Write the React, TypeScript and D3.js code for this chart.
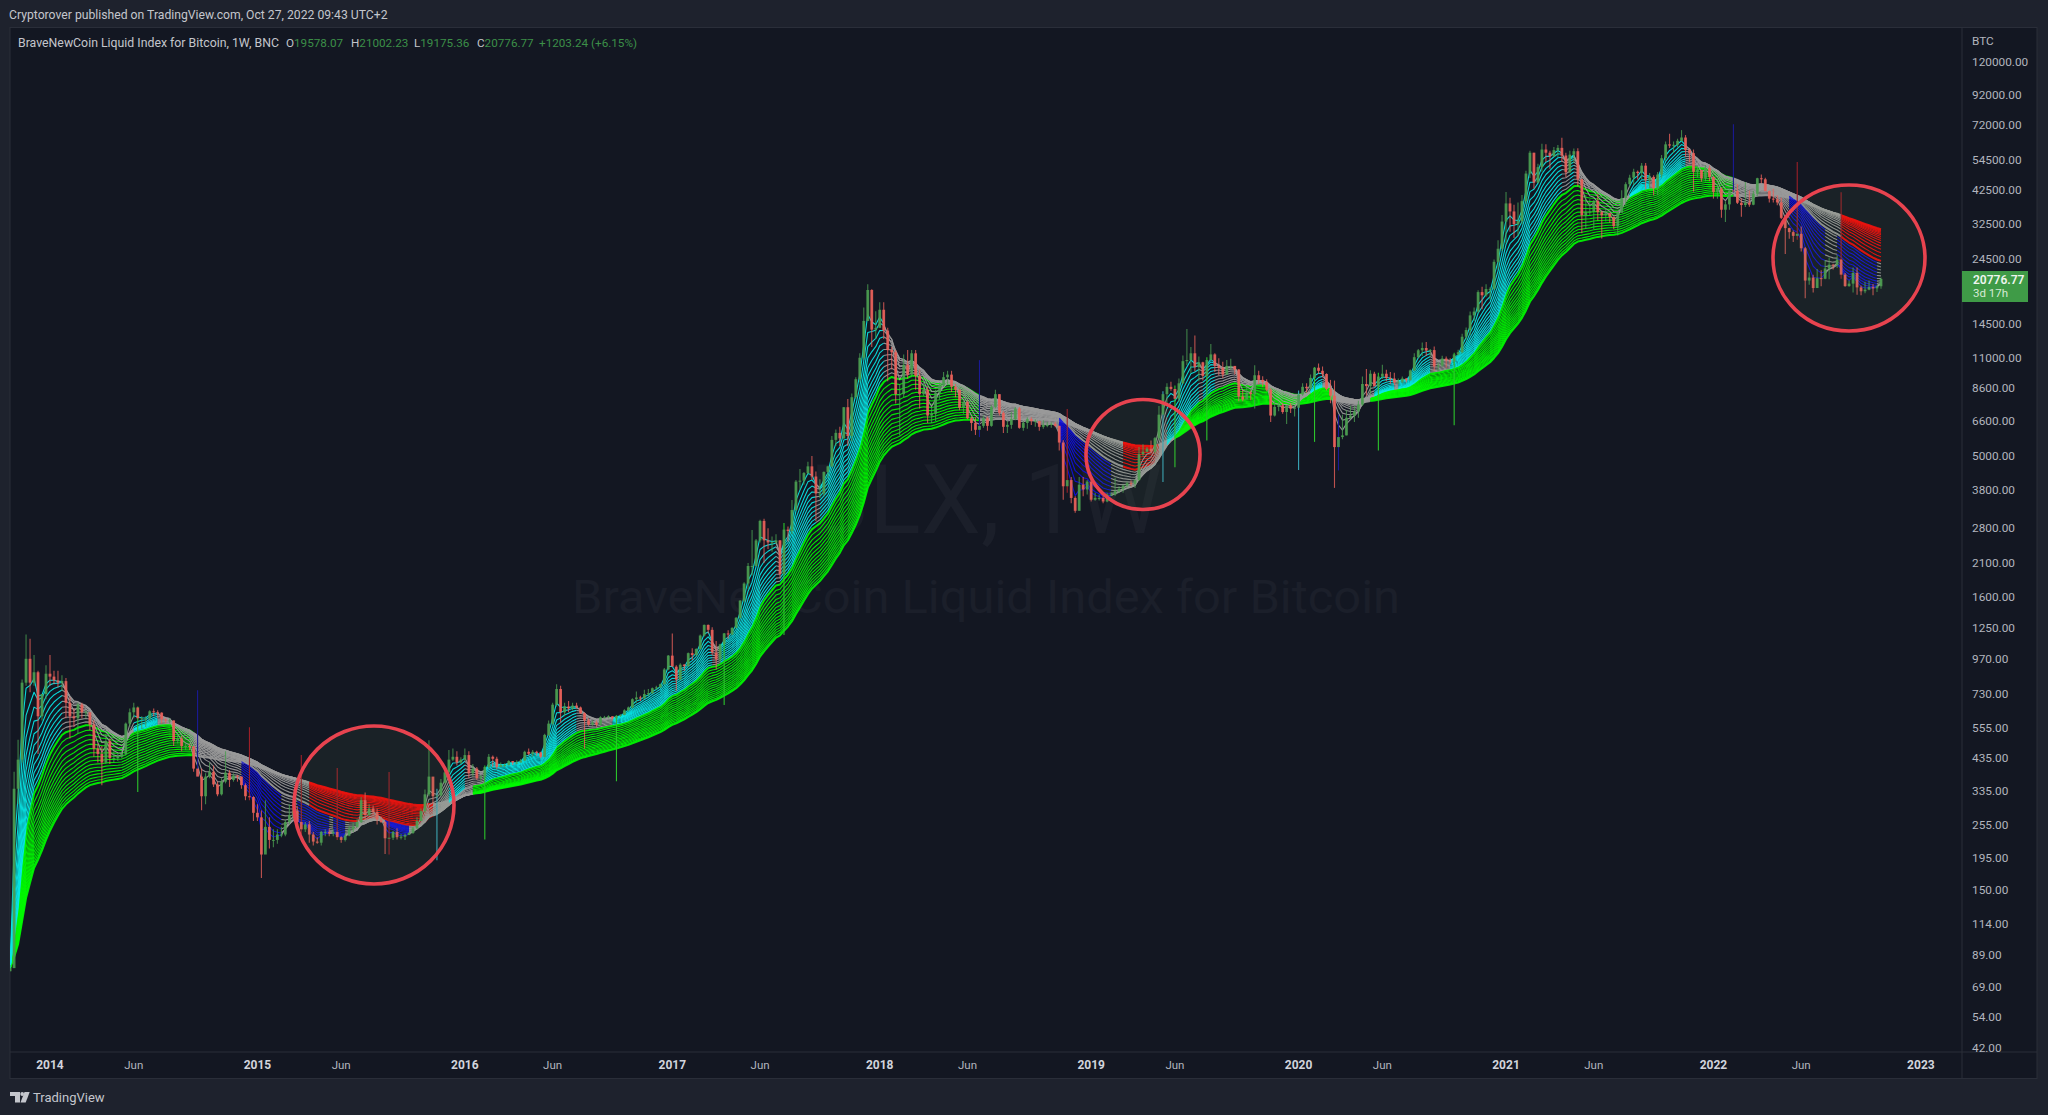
import React from 'react';
import * as d3 from 'd3';

// Weekly bars, first Monday 2013-10-28, rows split by calendar month (first row: 2013).
const firstWeek = '2013-10-28';
const closes = [
  80,340,430,800,970,800,870,610,730,860,
  840,815,800,810, 680,610,600,670, 630,630,570,470,450, 420,500,435,435, 440,450,575,630, 655,600,600,600,635, 630,628,595,590, 590,500,510,480, 480,478,400,375,320, 375,390,352,325, 360,387,365,378, 375,350,320,318,280,
  270,200,250,225, 225,235,235,260, 275,285,260,245,255, 235,222,220,240, 240,237,240,230, 225,233,245,250,260, 310,275,290,282, 265,260,228,229,240, 230,231,234,238, 247,262,284,325, 375,320,322,357,388, 430,440,420,430,
  446,385,400,370, 375,405,440,433,405, 412,412,425,420, 420,427,458,451, 458,456,440,525,575, 670,760,630,660, 650,665,655,625, 590,570,580,570,605, 605,610,600,612, 617,640,655,700,710, 705,730,735,765, 770,790,890,995,
  910,820,925,915,1015, 1000,1050,1170,1275, 1225,1020,965,1090, 1190,1180,1245,1350, 1550,1780,2050,2050,2520, 2950,2520,2480,2480, 2520,1920,2750,2720,3220, 4050,4080,4340,4580, 4220,3680,3680,4380, 4580,5670,6000,5740,7380, 5850,8000,9250,11000, 14800,19000,13800,14000,
  16200,13700,11700,11500,8200, 8200,10400,9600,11400, 9500,8200,8500,6900, 7000,8300,8800,9400,9600, 8700,8500,7350,7700, 6750,6500,6150,6350, 6750,6350,7400,8200,7050, 6300,6400,6700,7300, 6250,6500,6700,6600, 6600,6300,6400,6400,6450, 6350,5550,3900,4100, 3550,3200,3950,3800,4050,
  3500,3550,3550,3450, 3650,3650,3750,3820, 3920,4000,3980,4100, 5050,5150,5280,5160,5750, 6950,8200,8700,8550, 7900,8950,10700,10800, 11400,10200,10600,9500,10800, 11300,10300,10150,9600, 10300,10300,10000,8050,7850, 8300,8200,9550,9200, 9050,8500,6900,7400, 7500,7100,7500,7300,7350,
  8180,8700,8600,9350, 10150,9900,9650,8550, 8100,5350,5800,5880,6780, 6900,7130,7540,8900, 8750,9670,8720,9450, 9670,9340,9300,9000,9070, 9300,9170,9930,11050, 11680,11900,11650,11700,10250, 10330,10930,10770,10670, 11300,11500,13030,13760, 15480,15960,18680,18200,19150, 19170,23850,26500,33000,
  38200,35800,32300,33100, 38900,48600,57500,45200, 51200,59000,57500,55800,58700, 59800,56200,49100,56600, 58200,46400,34700,35700,35800, 39000,35600,34700,35300, 34300,31800,35400,39900, 44600,47000,49300,48800,51800, 46000,47300,43200,48200, 55000,61500,60900,61300, 63300,65000,58700,57300,49300, 50100,46700,50800,47300,
  41900,43100,36300,37900,42400, 42200,38400,37700,38400, 37800,41300,46800,46400, 42200,39700,39500,38500, 34000,31300,30300,29400,29900, 26600,20500,21000,19300, 20900,20800,22600,23300, 23200,24300,21500,19600,20000, 21800,19400,18800,19050, 19440,19250,19578.07,20776.77,
];
const highs = [
  82,390,505,820,1180,1140,1000,880,730,920,
  1000,880,880,850, 830,710,650,680, 680,640,630,590,490, 480,530,510,460, 450,460,580,650, 680,660,610,610,640, 650,640,630,600, 600,590,530,520, 490,490,480,753,400, 385,420,410,360, 370,460,395,385, 380,375,355,558,320,
  300,285,310,270, 245,245,250,265, 300,300,295,446,260, 262,240,230,242, 245,246,245,402, 232,236,252,258,267, 318,330,300,297, 290,270,262,389,242, 247,236,237,240, 250,270,290,338, 503,340,340,368,400, 465,470,460,438,
  470,460,415,405, 380,410,450,445,440, 420,418,428,425, 428,432,462,470, 465,462,458,530,590, 680,790,780,680, 690,680,680,660, 630,600,590,590,610, 612,615,610,615, 620,645,660,705,745, 720,755,760,770, 780,795,900,1000,
  1190,920,935,930,1020, 1055,1055,1180,1280, 1280,1250,1120,1095, 1195,1220,1250,1360, 1560,1800,2100,2740,2550, 2980,3000,2780,2600, 2650,2530,2900,2820,3490, 4100,4480,4380,4750, 4980,4390,4130,4390, 4600,5850,6170,6300,7400, 7880,8250,9400,11400, 16500,19900,19100,16000,
  17200,17200,14000,12000,11700, 8900,11300,11700,11700, 11700,10000,9200,8700, 7400,8500,9000,9800,9900, 9900,8900,8500,7750, 7800,6850,6800,10790, 6900,6850,7500,8500,8200, 7150,6600,7100,7400, 7400,6600,6800,6800, 6700,6600,6650,6550,6550, 6550,6350,5650,7280, 4200,3600,4200,4200,4100,
  4100,3700,3650,3600, 3700,3720,4180,3900, 3950,4050,4090,4120, 5350,5470,5350,5640,5800, 7450,8400,8950,9070, 8800,9300,11200,13880, 12000,13150,11100,10650,11050, 12300,11400,10950,10650, 10800,10900,10300,10050,8500, 8700,8450,10350,9900, 9470,9250,8600,7820, 7720,7650,7520,7640,7500,
  8450,8950,8950,9600, 10200,10500,10250,9700, 9200,9150,6950,6950,7200, 7470,7460,7770,9450, 10050,9950,9830,9740, 10400,9990,9800,9750,9300, 9450,9350,10000,11400, 11800,12450,12480,11800,12050, 10580,11180,11100,10950, 11450,11730,13350,14050, 15960,16480,18950,19500,19900, 19420,24300,28400,34800,
  41900,40000,37800,38500, 40900,49700,58400,57500, 52600,61800,61500,58400,60200, 61200,64900,57500,58400, 59500,59600,46600,40900,39500, 39300,41300,36000,36700, 35300,33900,35400,42500, 45300,48100,50500,49800,52900, 52900,48800,47900,49200, 56500,62900,67000,63000, 64300,69000,66300,59400,59000, 51900,49500,52000,51900,
  47500,44400,43500,38900,42800, 72400,44700,39800,45400, 42400,42300,47000,48200, 47000,42400,43000,40800, 40000,34300,31400,30700,53400, 31700,26900,21900,21500, 22500,22300,24200,24700, 23500,25200,41770,21800,20500, 22800,22800,19700,20300, 20500,19950,19700,21002.23,
];
const lows = [
  78,200,300,420,780,740,780,450,590,700,
  780,790,770,750, 600,510,560,530, 600,600,545,440,420, 350,415,415,420, 425,435,445,560, 600,331,550,560,590, 610,600,575,575, 575,480,490,460, 465,465,390,375,286, 300,370,345,320, 322,355,345,360, 360,340,310,310,262,
  262,165.5,205,210, 212,218,230,232, 255,265,258,235,240, 220,215,218,215, 232,232,232,225, 220,222,232,240,248, 258,265,273,275, 255,258,201,200,225, 226,226,225,235, 236,245,262,280, 320,300,191,320,355, 385,425,410,415,
  425,370,375,365, 360,226,400,405,398, 405,405,410,412, 415,420,425,445, 440,445,435,438,520, 570,660,580,610, 630,640,650,622, 470,565,565,560,568, 600,600,590,361, 607,615,635,650,680, 690,700,715,730, 755,768,790,885,
  960,750,815,880,910, 960,990,1050,1160, 1190,1000,890,935, 668,1140,1175,1240, 1340,1530,1700,1900,2080, 2480,2100,2350,2300, 2450,1850,1175,2500,2650, 3200,3800,3950,4300, 4100,2950,3550,3600, 4180,4560,5400,5400,5700, 5400,5600,7900,9000, 10800,14800,12000,12800,
  14000,12800,9100,10000,7600, 5880,8000,9300,9400, 8500,7300,8100,6500, 6500,6600,7850,8700,8900, 8350,8000,7200,7000, 6700,6100,5900,5800, 6250,6100,6300,7300,6900, 6000,6000,6200,6650, 6200,6100,6200,6400, 6300,6100,6200,6280,6250, 6280,5200,3500,3700, 3400,3150,3200,3600,3650,
  3450,3470,3480,3400, 3430,3610,3610,3700, 3700,3860,3900,3850, 4080,4950,5130,5130,5070, 5680,4040,7500,8430, 4550,7700,8900,10350, 9700,9850,9100,9150,5640, 10900,9800,9550,9350, 9600,10000,9600,7750,7750, 8050,7800,7300,8900, 8700,8400,6550,6850, 7150,7000,6450,7050,6850,
  4450,8100,8300,8550, 5580,9650,9400,8450, 7620,3850,4430,5700,5880, 6700,6550,6780,7450, 8100,8200,8800,5210, 9270,9100,8900,8830,8900, 8950,9000,9130,9900, 10950,11150,11150,11120,9900, 9850,10200,10150,10450, 6380,11200,11400,12750, 13200,14800,15800,16250,18000, 17600,19000,22400,26000,
  27700,30400,28900,29300, 32300,38000,46900,43000, 44900,49300,53300,50500,55500, 55500,53300,47200,48800, 52900,43800,30000,31100,34800, 31100,33300,28800,33000, 32700,31000,29500,36400, 37500,43700,44300,46300,46500, 42800,43400,40700,40800, 47000,53900,59700,57400, 60000,62800,55500,53300,42000, 47100,45500,45600,45700,
  39700,39700,34000,32900,36300, 41700,38000,34300,37100, 37200,37600,40500,44900, 42100,38500,38500,37600, 33700,25400,28700,28000,28500, 25900,17770,19800,18600, 19300,19600,20700,20700, 22400,22700,20800,19500,19500, 18600,18300,18200,18500, 18950,18200,18700,19175.36,
];
// Long shadows that carry a colour of their own: bar index, and colour role.
const limeShadowBars = [32, 119, 152, 179, 194, 292, 300, 327, 343, 362];
const cyanShadowBars = [107, 289, 323];
const blueShadowBars = [47, 243, 333, 432];
const darkRedShadowBars = [60, 73, 82, 95, 265, 448, 459];

const fastPeriods = [3, 5, 7, 9, 11, 13, 15, 17, 19, 21, 23];
const slowPeriods = [25, 28, 31, 34, 37, 40, 43, 46, 49, 52, 55, 58, 61, 64, 67, 70];

const priceTicks = [120000, 92000, 72000, 54500, 42500, 32500, 24500, 14500, 11000, 8600, 6600, 5000, 3800, 2800, 2100, 1600, 1250, 970, 730, 555, 435, 335, 255, 195, 150, 114, 89, 69, 54, 42];
const timeTickDates = ['2014-01-06','2014-06-02','2015-01-05','2015-06-01','2016-01-04','2016-06-06','2017-01-02','2017-06-05','2018-01-01','2018-06-04','2019-01-07','2019-06-03','2020-01-06','2020-06-01','2021-01-04','2021-06-07','2022-01-03','2022-06-06','2023-01-02'];
const timeTickLabels = ['2014','Jun','2015','Jun','2016','Jun','2017','Jun','2018','Jun','2019','Jun','2020','Jun','2021','Jun','2022','Jun','2023'];

const W = 2048, H = 1115;
const UI = 'Roboto, "Open Sans", sans-serif';
const bg = '#1e222d', pane = '#131722', rule = '#2a2e39', axisText = '#b2b5be';
const up = '#4a9c50', down = '#e8605a';
const roleColor: Record<string, string> = { aqua: '#08e8e8', blue: '#1010e0', gray: '#9a9a9a', lime: '#00fa00', red: '#f40808' };

function ema(values: number[], period: number) {
  const k = 2 / (period + 1);
  const out: number[] = [];
  values.forEach((v, i) => out.push(i === 0 ? v : out[i - 1] + k * (v - out[i - 1])));
  return out;
}
const descending = (sets: number[][], i: number) => sets.every((s, j) => j === 0 || sets[j - 1][i] > s[i]);
const ascending = (sets: number[][], i: number) => sets.every((s, j) => j === 0 || sets[j - 1][i] < s[i]);

export default function App() {
  const n = closes.length;
  const start = new Date(firstWeek + 'T00:00:00Z');
  const dates = d3.utcMonday.range(start, d3.utcDay.offset(start, n * 7));
  const x = d3.scaleUtc().domain([dates[0], dates[n - 1]]).range([10.1, 1881]);
  const y = d3.scaleLog().domain([120000, 42]).range([61.5, 1048]);

  const fast = fastPeriods.map(p => ema(closes, p));
  const slow = slowPeriods.map(p => ema(closes, p));
  const lastFast = fast[fast.length - 1];
  const lastSlow = slow[slow.length - 1];
  const fastRole = d3.range(n).map(i =>
    descending(fast, i) && lastFast[i] > lastSlow[i] ? 'aqua' :
    ascending(fast, i) && lastFast[i] < lastSlow[i] ? 'blue' : 'gray');
  const slowRole = d3.range(n).map(i => descending(slow, i) ? 'lime' : ascending(slow, i) ? 'red' : 'gray');

  const pathsFor = (values: number[], roles: string[]) => {
    const gen = d3.line<number>().x(i => x(dates[i])).y(i => y(values[i]));
    const runs: { role: string; d: string }[] = [];
    let s = 1;
    for (let i = 2; i <= n; i++) {
      if (i === n || roles[i] !== roles[s]) {
        runs.push({ role: roles[s], d: gen(d3.range(s - 1, i)) as string });
        s = i;
      }
    }
    return runs;
  };

  const shadowColor = (i: number, base: string) =>
    limeShadowBars.includes(i) ? '#2cc42c' : cyanShadowBars.includes(i) ? '#39a6b8' :
    blueShadowBars.includes(i) ? '#1a1a96' : darkRedShadowBars.includes(i) ? '#9c2028' : base;

  return (
    <svg width={W} height={H} viewBox={`0 0 ${W} ${H}`} style={{ position: 'fixed', left: 0, top: 0, display: 'block' }} fontFamily={UI}>
      <defs>
        <clipPath id="paneClip"><rect x={10} y={28} width={1952} height={1024} /></clipPath>
        <clipPath id="axisClip"><rect x={1963} y={28} width={74} height={1024} /></clipPath>
      </defs>
      <rect width={W} height={H} fill={bg} />
      <rect x={10} y={27.5} width={2027} height={1051} fill={pane} stroke={rule} />
      <text x={9} y={19} fontSize={12.2} fill="#c4c6cc">Cryptorover published on TradingView.com, Oct 27, 2022 09:43 UTC+2</text>

      <g clipPath="url(#paneClip)">
        <text x={986} y={533} textAnchor="middle" fontSize={96} fill="#1b1f2a">BLX, 1W</text>
        <text x={986} y={613} textAnchor="middle" fontSize={46} fill="#1b1f2a" textLength={828} lengthAdjust="spacingAndGlyphs">BraveNewCoin Liquid Index for Bitcoin</text>

        <g fill="none" strokeLinejoin="round">
          {slow.map((s, j) => pathsFor(s, slowRole).map((r, k) => (
            <path key={`s${j}-${k}`} d={r.d} stroke={roleColor[r.role]} strokeWidth={j === 0 || j === slow.length - 1 ? 2 : 1.1} strokeOpacity={0.92} />
          )))}
          {fast.map((s, j) => pathsFor(s, fastRole).map((r, k) => (
            <path key={`f${j}-${k}`} d={r.d} stroke={roleColor[r.role]} strokeWidth={1.1} strokeOpacity={0.92} />
          )))}
        </g>

        <g>
          {closes.map((c, i) => {
            const o = i === 0 ? 78 : closes[i - 1];
            const base = c >= o ? up : down;
            const px = x(dates[i]);
            const top = y(Math.max(o, c));
            const accent = shadowColor(i, base);
            return (
              <g key={i}>
                <line x1={px} x2={px} y1={y(highs[i])} y2={y(lows[i])} stroke={accent} strokeWidth={1.1} strokeOpacity={accent === base ? 0.8 : 1} />
                <rect x={px - 1.4} y={top} width={2.8} height={Math.max(1, y(Math.min(o, c)) - top)} fill={base} fillOpacity={0.9} />
              </g>
            );
          })}
        </g>

        <g fill="rgba(120,160,100,0.08)" stroke="#e8434f" strokeWidth={3.6}>
          <ellipse cx={374} cy={805} rx={80} ry={79} />
          <ellipse cx={1143} cy={454.5} rx={57} ry={55} />
          <ellipse cx={1849} cy={258} rx={76} ry={73} />
        </g>
      </g>

      <line x1={1962} x2={1962} y1={28} y2={1078} stroke={rule} />
      <line x1={10} x2={2037} y1={1052} y2={1052} stroke={rule} />

      <text x={18} y={46.5} fontSize={12.3} fill="#c4c6cc">BraveNewCoin Liquid Index for Bitcoin, 1W, BNC</text>
      {[['O', 286, '19578.07'], ['H', 351, '21002.23'], ['L', 414, '19175.36'], ['C', 477, '20776.77']].map(([k, px, v]) => (
        <text key={k as string} x={px as number} y={46.5} fontSize={11.7} fill="#c4c6cc">{k}<tspan fill="#3c8f48">{v}</tspan></text>
      ))}
      <text x={539} y={46.5} fontSize={11.7} fill="#3c8f48">+1203.24 (+6.15%)</text>

      <g clipPath="url(#axisClip)" fontSize={11.8} fill={axisText}>
        <text x={1972} y={45}>BTC</text>
        {priceTicks.map(t => (
          <text key={t} x={1972} y={y(t) + 4.2}>{t.toFixed(2)}</text>
        ))}
      </g>

      <rect x={1962} y={271} width={66} height={31} fill="#3f9b47" />
      <text x={1973} y={284} fontSize={12} fontWeight={600} fill="#eef5ee">20776.77</text>
      <text x={1973} y={297} fontSize={11.5} fill="#d6ead6">3d 17h</text>

      <g fill={axisText} textAnchor="middle">
        {timeTickDates.map((t, i) => {
          const isYear = timeTickLabels[i] !== 'Jun';
          return (
            <text key={t} x={x(new Date(t + 'T00:00:00Z'))} y={1069} fontSize={isYear ? 12 : 11.5} fontWeight={isYear ? 700 : 400} fill={isYear ? '#d1d4dc' : axisText}>{timeTickLabels[i]}</text>
          );
        })}
      </g>
      <line x1={10} x2={2037} y1={1078.5} y2={1078.5} stroke={rule} />

      <g fill="#c4c6cc">
        <path d="M10 1092h10v10.5h-5v-6.5h-5z" />
        <circle cx={22.2} cy={1094} r={1.9} />
        <path d="M24.5 1092h5.2l-4 10.5h-5.2z" />
      </g>
      <text x={33} y={1102} fontSize={13} fill="#c4c6cc">TradingView</text>
    </svg>
  );
}
